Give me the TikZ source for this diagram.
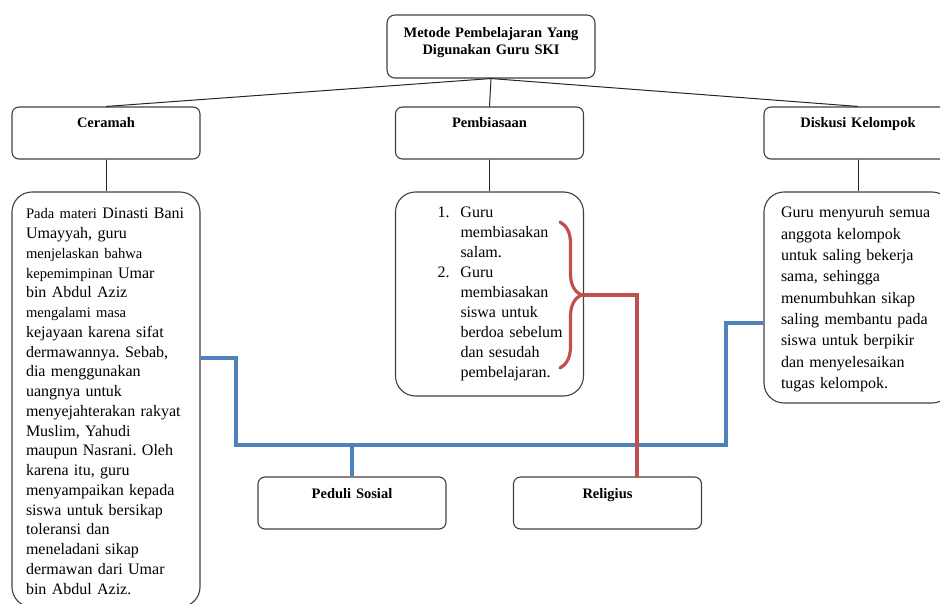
\documentclass[tikz,border=0pt]{standalone}
\usepackage{fontspec}
\setmainfont{Liberation Serif}
\usetikzlibrary{decorations.pathreplacing}
\definecolor{biru}{HTML}{4F81BD}
\definecolor{merah}{HTML}{C0504D}
\newcommand{\kecil}[1]{{\fontsize{14.6pt}{19.75pt}\selectfont #1}}
\frenchspacing
\begin{document}
\begin{tikzpicture}[x=1pt,y=-1pt,
  kotak/.style={draw=black!75, line width=1.1pt, rounded corners=7pt, align=center,
    font=\fontsize{14.5pt}{17pt}\selectfont\bfseries, text width=180pt,
    text height=17pt, text depth=27pt, inner xsep=4pt, inner ysep=4pt},
  isi/.style={draw=black!75, line width=1.1pt, rounded corners=20pt, align=left, inner ysep=4pt},
  garis/.style={draw=black!85, line width=1pt},
  garisbiru/.style={draw=biru, line width=3.2pt},
  garismerah/.style={draw=merah, line width=3.2pt, line cap=round}]
                \useasboundingbox (0,0) rectangle (940,604);
                \node[kotak, rounded corners=8pt, text width=200pt, text height=19pt, text depth=36pt] (judul) at (491,46.5) {Metode Pembelajaran Yang\\ Digunakan Guru SKI};
                \node[kotak] (metode1) at (106,133) {Ceramah};
                \node[kotak] (metode2) at (489.5,133) {Pembiasaan};
                \node[kotak] (metode3) at (858,133) {Diskusi Kelompok};
                \node[isi, font=\fontsize{16pt}{19.75pt}\selectfont, text width=160pt, inner xsep=14pt, text height=23pt, text depth=384pt] (isi1) at (106,399.5) {\kecil{Pada materi} Dinasti Bani\\ Umayyah, guru\\ \kecil{menjelaskan bahwa}\\ \kecil{kepemimpinan} Umar\\ bin Abdul Aziz\\ \kecil{mengalami masa}\\ kejayaan karena sifat\\ dermawannya. Sebab,\\ dia menggunakan\\ uangnya untuk\\ menyejahterakan rakyat\\ Muslim, Yahudi\\ maupun Nasrani. Oleh\\ karena itu, guru\\ menyampaikan kepada\\ siswa untuk bersikap\\ toleransi dan\\ meneladani sikap\\ dermawan dari Umar\\ bin Abdul Aziz.};
                \node[isi, font=\fontsize{16pt}{20pt}\selectfont, text width=168pt, inner xsep=10pt, text height=22pt, text depth=174pt] (isi2) at (489.5,294) {\begin{tabular}[t]{@{\hspace{32pt}}p{23pt}@{}l@{}}
                  1. & Guru\\ & membiasakan\\ & salam.\\
                  2. & Guru\\ & membiasakan\\ & siswa untuk\\ & berdoa sebelum\\ & dan sesudah\\ & pembelajaran.
                \end{tabular}};
                \node[isi, font=\fontsize{16pt}{21.3pt}\selectfont, text width=154pt, inner xsep=17pt, text height=22pt, text depth=181pt] (isi3) at (858,297.5) {Guru menyuruh semua\\ anggota kelompok\\ untuk saling bekerja\\ sama, sehingga\\ menumbuhkan sikap\\ saling membantu pada\\ siswa untuk berpikir\\ dan menyelesaikan\\ tugas kelompok.};
                \node[kotak] (nilai1) at (352,503) {Peduli Sosial};
                \node[kotak] (nilai2) at (607.5,503) {Religius};
                \coordinate (kurung) at (581,295);

                \draw[garis] (judul.south) to (metode1.north); \draw[garis] (judul.south) to (metode2.north); \draw[garis] (judul.south) to (metode3.north);
                \draw[garis] (metode1.south) to (isi1.north); \draw[garis] (metode2.south) to (isi2.north); \draw[garis] (metode3.south) to (isi3.north);
                \draw[garisbiru] (isi1.east |- 0,358) -| (236,445) -| (726,323) -- (isi3.west |- 0,323);
                \draw[garisbiru] (nilai1.north) -- (nilai1.north |- 0,445);
                \draw[garismerah, decorate, decoration={brace, amplitude=21pt}] (560,222) -- (560,368);
                \draw[garismerah] (kurung) -| (nilai2.north -| 637,0);
            \end{tikzpicture}
\end{document}
